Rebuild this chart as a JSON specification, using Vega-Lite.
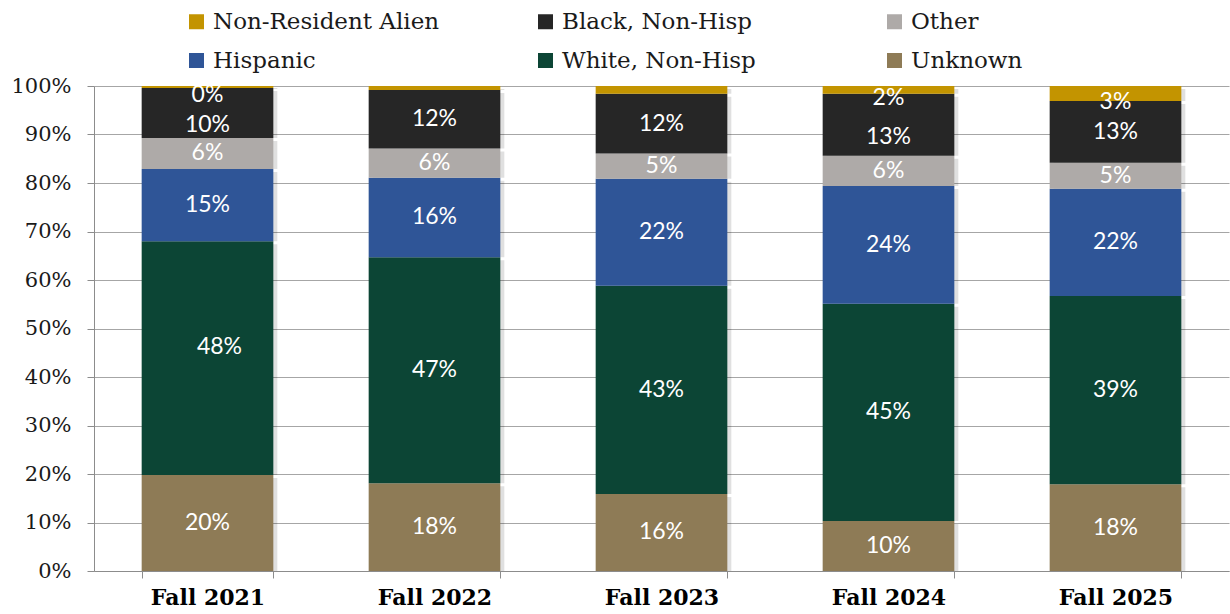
{
  "$schema": "https://vega.github.io/schema/vega-lite/v6.json",
  "width": 1135,
  "height": 485,
  "autosize": "none",
  "padding": {"left": 94, "top": 86, "right": 1, "bottom": 43},
  "background": "white",
  "config": {"view": {"stroke": null}},
  "data": {
    "values": [
      {"year": "Fall 2021", "race": "Unknown", "pct": 0.198},
      {"year": "Fall 2021", "race": "White, Non-Hisp", "pct": 0.482},
      {"year": "Fall 2021", "race": "Hispanic", "pct": 0.149},
      {"year": "Fall 2021", "race": "Other", "pct": 0.064},
      {"year": "Fall 2021", "race": "Black, Non-Hisp", "pct": 0.103},
      {"year": "Fall 2021", "race": "Non-Resident Alien", "pct": 0.004},
      {"year": "Fall 2022", "race": "Unknown", "pct": 0.181},
      {"year": "Fall 2022", "race": "White, Non-Hisp", "pct": 0.466},
      {"year": "Fall 2022", "race": "Hispanic", "pct": 0.164},
      {"year": "Fall 2022", "race": "Other", "pct": 0.060},
      {"year": "Fall 2022", "race": "Black, Non-Hisp", "pct": 0.121},
      {"year": "Fall 2022", "race": "Non-Resident Alien", "pct": 0.008},
      {"year": "Fall 2023", "race": "Unknown", "pct": 0.159},
      {"year": "Fall 2023", "race": "White, Non-Hisp", "pct": 0.429},
      {"year": "Fall 2023", "race": "Hispanic", "pct": 0.221},
      {"year": "Fall 2023", "race": "Other", "pct": 0.052},
      {"year": "Fall 2023", "race": "Black, Non-Hisp", "pct": 0.123},
      {"year": "Fall 2023", "race": "Non-Resident Alien", "pct": 0.016},
      {"year": "Fall 2024", "race": "Unknown", "pct": 0.103},
      {"year": "Fall 2024", "race": "White, Non-Hisp", "pct": 0.448},
      {"year": "Fall 2024", "race": "Hispanic", "pct": 0.243},
      {"year": "Fall 2024", "race": "Other", "pct": 0.062},
      {"year": "Fall 2024", "race": "Black, Non-Hisp", "pct": 0.128},
      {"year": "Fall 2024", "race": "Non-Resident Alien", "pct": 0.016},
      {"year": "Fall 2025", "race": "Unknown", "pct": 0.179},
      {"year": "Fall 2025", "race": "White, Non-Hisp", "pct": 0.388},
      {"year": "Fall 2025", "race": "Hispanic", "pct": 0.221},
      {"year": "Fall 2025", "race": "Other", "pct": 0.054},
      {"year": "Fall 2025", "race": "Black, Non-Hisp", "pct": 0.127},
      {"year": "Fall 2025", "race": "Non-Resident Alien", "pct": 0.031}
    ]
  },
  "transform": [
    {"calculate": "indexof(['Non-Resident Alien','Black, Non-Hisp','Other','Hispanic','White, Non-Hisp','Unknown'], datum.race)", "as": "k"},
    {"stack": "pct", "groupby": ["year"], "sort": [{"field": "k", "order": "descending"}], "as": ["y0", "y1"]},
    {"calculate": "(datum.y0 + datum.y1) / 2", "as": "mid"}
  ],
  "encoding": {
    "x": {
      "field": "year",
      "type": "nominal",
      "scale": {"paddingInner": 0.42, "paddingOuter": 0.21},
      "axis": {
        "title": null,
        "labelAngle": 0,
        "labelFont": "DejaVu Serif",
        "labelFontSize": 22,
        "labelFontWeight": "bold",
        "labelColor": "#000000",
        "labelPadding": 9,
        "tickBand": "extent",
        "tickSize": 7,
        "tickColor": "#8c8c8c",
        "domainColor": "#8c8c8c",
        "grid": false
      }
    }
  },
  "layer": [
    {
      "mark": {"type": "bar", "xOffset": 4, "yOffset": 3, "color": "#000000", "opacity": 0.12},
      "encoding": {
        "y": {"field": "y1", "type": "quantitative"},
        "y2": {"field": "y0"}
      }
    },
    {
      "mark": {"type": "bar"},
      "encoding": {
        "y": {
          "field": "y1",
          "type": "quantitative",
          "scale": {"domain": [0, 1], "nice": false},
          "axis": {
            "title": null,
            "values": [0, 0.1, 0.2, 0.3, 0.4, 0.5, 0.6, 0.7, 0.8, 0.9, 1],
            "format": ".0%",
            "labelFont": "DejaVu Serif",
            "labelFontSize": 21,
            "labelColor": "#1a1a1a",
            "labelPadding": 16,
            "tickSize": 7,
            "tickColor": "#8c8c8c",
            "domainColor": "#8c8c8c",
            "gridColor": "#a6a6a6",
            "gridWidth": 1
          }
        },
        "y2": {"field": "y0"},
        "color": {
          "field": "race",
          "type": "nominal",
          "scale": {
            "domain": ["Non-Resident Alien", "Black, Non-Hisp", "Other", "Hispanic", "White, Non-Hisp", "Unknown"],
            "range": ["#c39400", "#262626", "#aeaaa8", "#2f5597", "#0c4535", "#8e7b56"]
          },
          "legend": {
            "title": null,
            "orient": "none",
            "legendX": 91,
            "legendY": -76,
            "direction": "horizontal",
            "columns": 3,
            "gridAlign": "all",
            "columnPadding": 94,
            "rowPadding": 15,
            "symbolType": "square",
            "symbolSize": 225,
            "symbolStrokeWidth": 0,
            "labelFont": "DejaVu Serif",
            "labelFontSize": 23,
            "labelColor": "#1a1a1a",
            "labelOffset": 5,
            "labelLimit": 400
          }
        }
      }
    },
    {
      "transform": [{"filter": "datum.race != 'Non-Resident Alien' && !(datum.race == 'Black, Non-Hisp' && (datum.year == 'Fall 2021' || datum.year == 'Fall 2024')) && !(datum.race == 'White, Non-Hisp' && datum.year == 'Fall 2021')"}],
      "mark": {"type": "text", "font": "Lato", "fontSize": 23, "color": "#ffffff", "baseline": "middle", "align": "center"},
      "encoding": {
        "y": {"field": "mid", "type": "quantitative"},
        "text": {"field": "pct", "type": "quantitative", "format": ".0%"}
      }
    },
    {
      "transform": [{"filter": "datum.race == 'Black, Non-Hisp' && (datum.year == 'Fall 2021' || datum.year == 'Fall 2024')"}],
      "mark": {"type": "text", "font": "Lato", "fontSize": 23, "color": "#ffffff", "baseline": "middle", "align": "center", "dy": 12},
      "encoding": {
        "y": {"field": "mid", "type": "quantitative"},
        "text": {"field": "pct", "type": "quantitative", "format": ".0%"}
      }
    },
    {
      "transform": [{"filter": "datum.race == 'White, Non-Hisp' && datum.year == 'Fall 2021'"}],
      "mark": {"type": "text", "font": "Lato", "fontSize": 23, "color": "#ffffff", "baseline": "middle", "align": "center", "dx": 12, "dy": -11},
      "encoding": {
        "y": {"field": "mid", "type": "quantitative"},
        "text": {"field": "pct", "type": "quantitative", "format": ".0%"}
      }
    },
    {
      "transform": [{"filter": "datum.race == 'Non-Resident Alien' && (datum.year == 'Fall 2021' || datum.year == 'Fall 2024' || datum.year == 'Fall 2025')"}],
      "mark": {"type": "text", "font": "Lato", "fontSize": 23, "color": "#ffffff", "baseline": "middle", "align": "center", "dy": 8},
      "encoding": {
        "y": {"field": "mid", "type": "quantitative"},
        "text": {"field": "pct", "type": "quantitative", "format": ".0%"}
      }
    }
  ]
}
